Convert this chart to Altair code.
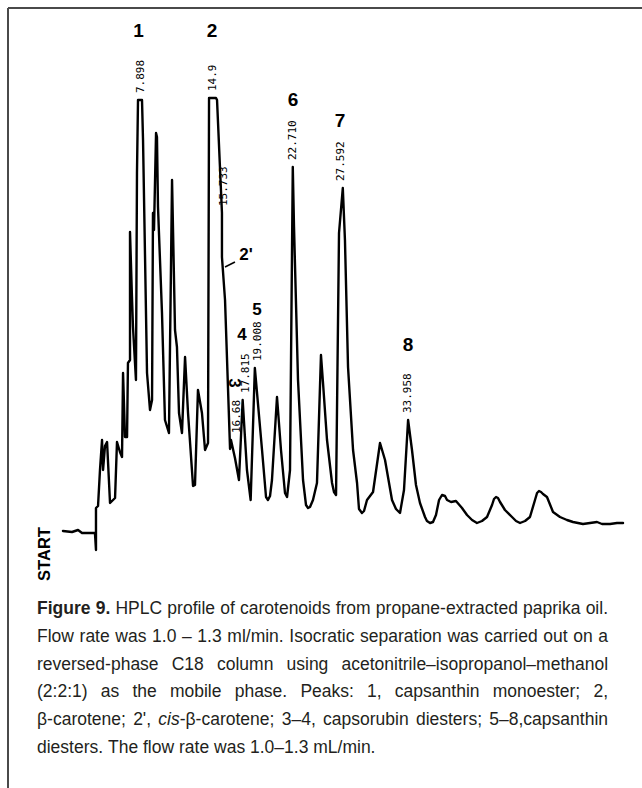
import altair as alt
import pandas as pd

# Detector trace: retention time (min) and detector response (arbitrary units)
time_min = [
    0.29, 1.17, 1.76, 2.15, 3.41, 3.51, 3.51, 3.71, 3.90, 4.10,
    4.20, 4.39, 4.59, 4.88, 5.37, 5.56, 5.85, 6.05, 6.15, 6.34,
    6.54, 6.63, 6.83, 6.83, 7.02, 7.12, 7.41, 7.51, 7.61, 8.00,
    8.10, 8.49, 8.78, 8.98, 9.07, 9.17, 9.37, 9.46, 9.56, 9.95,
    10.24, 10.63, 10.93, 11.22, 11.41, 11.61, 11.90, 12.20, 12.49, 12.98,
    13.17, 13.46, 13.85, 14.15, 14.44, 14.54, 15.22, 15.32, 15.80, 15.80,
    16.10, 16.59, 16.68, 17.07, 17.46, 17.82, 18.24, 18.60, 19.01, 19.71,
    20.10, 20.29, 20.49, 20.68, 21.17, 21.56, 21.95, 22.15, 22.44, 22.71,
    22.83, 23.22, 23.71, 24.00, 24.20, 24.39, 24.68, 25.07, 25.46, 25.66,
    26.05, 26.54, 26.73, 26.93, 27.22, 27.59, 27.80, 28.10, 28.59, 28.98,
    29.17, 29.46, 29.66, 29.95, 30.54, 31.22, 31.71, 32.39, 32.78, 33.17,
    33.56, 33.96, 34.34, 34.73, 35.12, 35.61, 35.80, 36.10, 36.39, 36.68,
    36.98, 37.27, 37.56, 37.76, 38.15, 38.63, 39.22, 39.71, 40.20, 40.68,
    41.17, 41.66, 42.15, 42.34, 42.54, 42.73, 42.93, 43.41, 44.10, 44.49,
    44.88, 45.37, 45.85, 46.34, 46.54, 46.73, 46.93, 47.12, 47.51, 48.10,
    48.78, 49.46, 50.05, 51.02, 51.71, 52.39, 52.88, 53.66, 54.34, 54.93,
]
response = [
    0.5, 0.25, 0.75, 0.0, 0.0, -4.25, 6.25, 6.75, 15.75, 23.25,
    15.75, 21.75, 22.75, 7.5, 8.75, 22.75, 20.25, 19.0, 40.0, 24.0,
    24.0, 42.5, 43.25, 75.25, 59.0, 51.5, 38.25, 90.0, 108.25, 108.25,
    98.25, 40.0, 30.75, 33.25, 80.0, 75.75, 100.0, 99.0, 81.5, 55.0,
    28.25, 25.0, 88.25, 50.75, 46.5, 30.0, 25.0, 44.0, 30.0, 11.75,
    12.0, 35.75, 30.0, 20.75, 22.5, 108.75, 108.75, 108.25, 80.0, 69.0,
    58.25, 21.0, 23.25, 18.75, 13.25, 33.25, 15.75, 8.25, 41.25, 20.75,
    9.0, 8.25, 9.25, 13.25, 34.0, 20.75, 10.0, 9.0, 15.75, 91.5,
    76.5, 38.25, 13.25, 7.0, 6.25, 6.5, 8.25, 12.5, 44.5, 37.5,
    23.25, 12.5, 10.25, 9.5, 75.0, 86.25, 73.25, 41.5, 20.75, 12.5,
    6.0, 5.0, 5.5, 8.25, 10.25, 22.5, 18.25, 8.25, 6.0, 5.0,
    10.75, 28.25, 20.75, 12.0, 7.5, 4.0, 3.0, 2.5, 2.75, 4.5,
    8.25, 9.5, 9.25, 8.25, 7.75, 8.0, 6.25, 4.5, 3.25, 2.5,
    3.0, 4.0, 7.0, 8.5, 9.0, 8.75, 7.75, 5.75, 4.0, 3.0,
    2.5, 3.0, 4.0, 8.25, 10.0, 10.5, 10.25, 9.75, 9.0, 5.25,
    4.0, 3.25, 2.75, 2.25, 2.5, 2.75, 2.25, 2.25, 2.5, 2.5,
]

# Integrator retention-time marks printed above the peaks
rt_text = ["7.898", "14.9", "15.733", "16.68", "17.815", "19.008", "22.710", "27.592", "33.958"]
rt_value = [7.898, 14.9, 15.733, 16.68, 17.815, 19.008, 22.710, 27.592, 33.958]
rt_top = [108.25, 108.75, 80.0, 23.25, 33.25, 41.25, 91.5, 86.25, 28.25]
rt_shift = [0, 0, 3, 6, 3, 3, 0, -2, 0]   # sideways nudge of crowded marks, px

# Peak numbers
peak_id = ["1", "2", "6", "7", "8"]
peak_id_t = [7.66, 14.83, 22.73, 27.32, 33.95]
peak_id_s = [125.5, 125.5, 108.25, 103.0, 47.0]
minor_id = ["4", "5", "2'"]
minor_id_t = [17.76, 19.22, 18.15]
minor_id_s = [49.5, 55.75, 69.5]

# Caption, as runs of (text, weight, style); the last line is not justified
caption_runs = [
    [("Figure 9.", "bold", "normal"),
     (" HPLC profile of carotenoids from propane-extracted paprika oil.", "normal", "normal")],
    [("Flow rate was 1.0 \u2013 1.3 ml/min. Isocratic separation was carried out on a", "normal", "normal")],
    [("reversed-phase C18 column using acetonitrile\u2013isopropanol\u2013methanol", "normal", "normal")],
    [("(2:2:1) as the mobile phase. Peaks: 1, capsanthin monoester; 2,", "normal", "normal")],
    [("\u03b2-carotene; 2', ", "normal", "normal"), ("cis", "normal", "italic"),
     ("-\u03b2-carotene; 3\u20134, capsorubin diesters; 5\u20138,capsanthin", "normal", "normal")],
    [("diesters. The flow rate was 1.0\u20131.3 mL/min.", "normal", "normal")],
]

W, H = 642, 788
xs = alt.Scale(domain=[-5.854, 56.78], nice=False, zero=False)
ys = alt.Scale(domain=[-63.75, 133.25], nice=False, zero=False)

trace_df = pd.DataFrame({"t": time_min, "s": response, "i": range(len(time_min))})
pk_df = pd.DataFrame({"label": peak_id, "t": peak_id_t, "s": peak_id_s})
mn_df = pd.DataFrame({"label": minor_id, "t": minor_id_t, "s": minor_id_s})


def X(f):
    return alt.X(f, scale=xs, axis=None)


def Y(f):
    return alt.Y(f, scale=ys, axis=None)


trace = alt.Chart(trace_df).mark_line(
    color="black", strokeWidth=2.4, strokeJoin="round", strokeCap="round"
).encode(x=X("t:Q"), y=Y("s:Q"), order="i:Q")

rt_layers = []
for lab, t, s, sh in zip(rt_text, rt_value, rt_top, rt_shift):
    rt_layers.append(
        alt.Chart(pd.DataFrame({"label": [lab], "t": [t], "s": [s]})).mark_text(
            angle=270, align="left", baseline="middle", dx=7, dy=sh,
            font="DejaVu Sans Mono", fontSize=11, color="black",
        ).encode(x=X("t:Q"), y=Y("s:Q"), text="label:N")
    )

pk_labels = alt.Chart(pk_df).mark_text(
    align="center", baseline="middle", font="Liberation Sans",
    fontWeight="bold", fontSize=19, color="black",
).encode(x=X("t:Q"), y=Y("s:Q"), text="label:N")

mn_labels = alt.Chart(mn_df).mark_text(
    align="center", baseline="middle", font="Liberation Sans",
    fontWeight="bold", fontSize=17, color="black",
).encode(x=X("t:Q"), y=Y("s:Q"), text="label:N")

# peak 3 is printed turned on its side
p3 = alt.Chart(pd.DataFrame({"label": ["3"], "t": [16.98], "s": [37.5]})).mark_text(
    angle=90, align="center", baseline="middle", font="Liberation Sans",
    fontWeight="bold", fontSize=17, color="black",
).encode(x=X("t:Q"), y=Y("s:Q"), text="label:N")

leader = alt.Chart(pd.DataFrame({"t": [16.10], "t2": [17.07], "s": [66.5], "s2": [67.75]})).mark_rule(
    color="black", strokeWidth=1.5
).encode(x=X("t:Q"), x2="t2:Q", y=Y("s:Q"), y2="s2:Q")

frame_left = alt.Chart(pd.DataFrame({"k": [0]})).mark_rule(color="#4a4a4a", strokeWidth=2).encode(
    x=alt.value(8), y=alt.value(8), y2=alt.value(H))
frame_top = alt.Chart(pd.DataFrame({"k": [0]})).mark_rule(color="#4a4a4a", strokeWidth=2).encode(
    x=alt.value(8), x2=alt.value(W), y=alt.value(8))

start = alt.Chart(pd.DataFrame({"label": ["START"]})).mark_text(
    angle=270, align="center", baseline="middle", font="Liberation Sans",
    fontWeight="bold", fontSize=16.5, color="black",
).encode(x=alt.value(45), y=alt.value(554), text="label:N")

# ---- caption, typeset with justified lines ----
CAP_FONT = "Liberation Sans"
CAP_COLOR = "#231f20"
CAP_SIZE = 17.5
LEFT, RIGHT = 37, 608
Y0, LH = 609, 27.8

# Arial/Liberation Sans advance widths (per 1000 em)
_w = dict(zip(" !'(),-./:;", [278, 278, 191, 333, 333, 278, 333, 278, 278, 278, 278]))
_w.update({d: 556 for d in "0123456789"})
_w.update(dict(zip("ABCDEFGHIJKLMNOPQRSTUVWXYZ",
                   [667, 667, 722, 722, 667, 611, 778, 722, 278, 500, 667, 556, 833,
                    722, 778, 667, 778, 722, 667, 611, 722, 667, 944, 667, 667, 611])))
_w.update(dict(zip("abcdefghijklmnopqrstuvwxyz",
                   [556, 556, 500, 556, 556, 278, 556, 556, 222, 222, 500, 222, 833,
                    556, 556, 556, 556, 333, 500, 278, 556, 500, 722, 500, 500, 500])))
_w.update({"\u2013": 556, "\u03b2": 575})
_wb = dict(_w)
_wb.update({"i": 278, "g": 611, "u": 611, "r": 389, "l": 278, "F": 611})


def width(s, weight):
    tbl = _wb if weight == "bold" else _w
    return sum(tbl.get(c, 556) for c in s) * CAP_SIZE / 1000.0


def cap_piece(text, x, y, weight, style):
    return alt.Chart(pd.DataFrame({"label": [text]})).mark_text(
        align="left", baseline="middle", font=CAP_FONT, fontSize=CAP_SIZE,
        fontWeight=weight, fontStyle=style, color=CAP_COLOR,
    ).encode(x=alt.value(round(x, 2)), y=alt.value(y), text="label:N")


caption = []
for row, runs in enumerate(caption_runs):
    words, cur = [], []
    for text, weight, style in runs:
        parts = text.split(" ")
        for j, p in enumerate(parts):
            if j > 0:
                if cur:
                    words.append(cur)
                cur = []
            if p:
                cur.append((p, weight, style))
    if cur:
        words.append(cur)
    wsum = [sum(width(p, wt) for p, wt, _ in wd) for wd in words]
    justify = row < len(caption_runs) - 1
    gap = (RIGHT - LEFT - sum(wsum)) / (len(words) - 1) if justify else width(" ", "normal")
    x = LEFT
    y = Y0 + LH * row
    for wd, ww in zip(words, wsum):
        px = x
        for p, wt, st in wd:
            caption.append(cap_piece(p, px, y, wt, st))
            px += width(p, wt)
        x += ww + gap

chart = alt.layer(
    frame_left, frame_top, trace, *rt_layers, pk_labels, mn_labels, p3, leader, start, *caption
).properties(
    width=W, height=H, autosize=alt.AutoSizeParams(type="none"), padding=0,
    background="white",
).configure_view(stroke=None)

chart.save("out.html", embed_options={"renderer": "svg", "actions": False})
